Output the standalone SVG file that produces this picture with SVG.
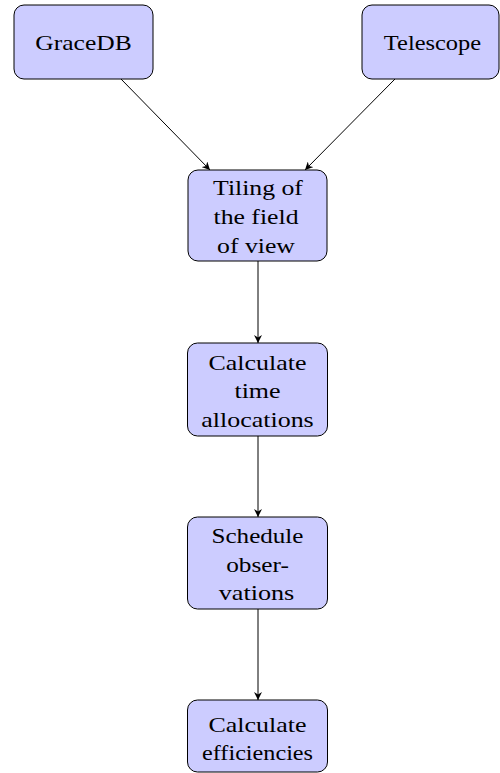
<svg xmlns="http://www.w3.org/2000/svg" width="500" height="773" viewBox="0 0 500 773">
<style>
.box{fill:#ccccff;stroke:#000;stroke-width:1}
.t{font-family:"Liberation Serif","Times New Roman",serif;font-size:22px;fill:#000;text-anchor:middle}
.e{stroke:#000;stroke-width:1;fill:none;marker-end:url(#ah)}
</style>
<defs>
<marker id="ah" viewBox="0 0 10 10" refX="10" refY="5" markerWidth="8" markerHeight="8" markerUnits="userSpaceOnUse" orient="auto">
<path d="M0,0 L10,5 L0,10 L3,5 Z" fill="#000"/>
</marker>
</defs>
<rect width="500" height="773" fill="#fff"/>
<g id="edges">
<line class="e" x1="121" y1="79" x2="210" y2="170"/>
<line class="e" x1="395" y1="79" x2="305" y2="170"/>
<line class="e" x1="258" y1="261" x2="258" y2="343"/>
<line class="e" x1="258" y1="436" x2="258" y2="517"/>
<line class="e" x1="258" y1="609" x2="258" y2="700"/>
</g>
<g id="gracedb">
<rect class="box" x="14" y="5" width="139" height="74" rx="10"/>
<text class="t" transform="translate(83.5,50) scale(1.16,1)">GraceDB</text>
</g>
<g id="telescope">
<rect class="box" x="362" y="5" width="137" height="74" rx="10"/>
<text class="t" transform="translate(432.5,50) scale(1.11,1)">Telescope</text>
</g>
<g id="tiling">
<rect class="box" x="188" y="170" width="139" height="91" rx="10"/>
<text class="t" transform="translate(258,195) scale(1.17,1)">Tiling of</text>
<text class="t" transform="translate(256,224) scale(1.17,1)">the field</text>
<text class="t" transform="translate(256,253) scale(1.17,1)">of view</text>
</g>
<g id="timealloc">
<rect class="box" x="187.5" y="343" width="140" height="93" rx="10"/>
<text class="t" transform="translate(257.5,370) scale(1.18,1)">Calculate</text>
<text class="t" transform="translate(257.5,398) scale(1.18,1)">time</text>
<text class="t" transform="translate(257.5,427) scale(1.18,1)">allocations</text>
</g>
<g id="schedule">
<rect class="box" x="187.5" y="517" width="140" height="92" rx="10"/>
<text class="t" transform="translate(257.5,543) scale(1.14,1)">Schedule</text>
<text class="t" transform="translate(257.5,572) scale(1.15,1)">obser-</text>
<text class="t" transform="translate(256.5,600) scale(1.19,1)">vations</text>
</g>
<g id="efficiencies">
<rect class="box" x="187.5" y="700" width="140" height="72" rx="10"/>
<text class="t" transform="translate(257.5,732) scale(1.18,1)">Calculate</text>
<text class="t" transform="translate(257.5,760) scale(1.1,1)">efficiencies</text>
</g>
</svg>
